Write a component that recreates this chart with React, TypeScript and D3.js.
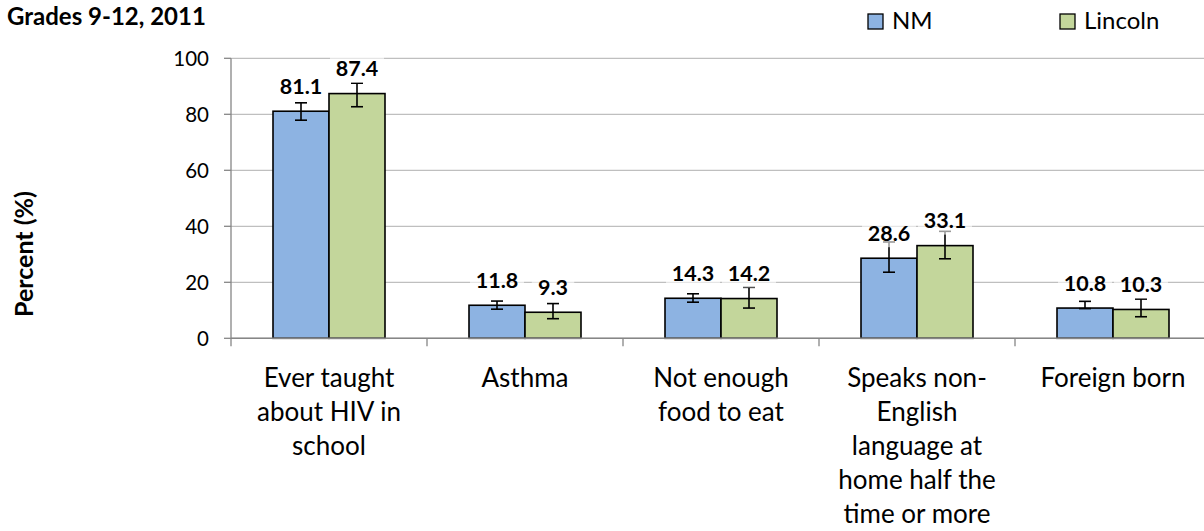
import React from "react";
import * as d3 from "d3";

const categories = [
  ["Ever taught", "about HIV in", "school"],
  ["Asthma"],
  ["Not enough", "food to eat"],
  ["Speaks non-", "English", "language at", "home half the", "time or more"],
  ["Foreign born"],
];
const seriesNames = ["NM", "Lincoln"];
const nmValues = [81.1, 11.8, 14.3, 28.6, 10.8];
const lincolnValues = [87.4, 9.3, 14.2, 33.1, 10.3];
const nmLower = [77.9, 10.4, 12.9, 23.6, 10.6];
const nmUpper = [84.1, 13.3, 15.9, 34.4, 13.2];
const lincolnLower = [82.7, 7.0, 10.8, 28.4, 7.7];
const lincolnUpper = [91.1, 12.4, 18.2, 38.2, 14.0];
const yTicks = [0, 20, 40, 60, 80, 100];
const colors = ["#8DB3E2", "#C3D69B"];

const W = 1204;
const H = 531;
const FONT = "Lato, 'Open Sans', sans-serif";

export default function App() {
  const left = 231;
  const right = 1211;
  const y = d3.scaleLinear().domain([0, 100]).range([338.3, 58.3]);
  const x0 = d3
    .scaleBand<number>()
    .domain(d3.range(categories.length))
    .range([left, right])
    .paddingInner(0)
    .paddingOuter(0);
  const bw = x0.bandwidth();
  const x1 = d3
    .scaleBand<number>()
    .domain([0, 1])
    .range([bw * 0.2143, bw * 0.7857])
    .padding(0);

  const series = [
    { vals: nmValues, lo: nmLower, hi: nmUpper },
    { vals: lincolnValues, lo: lincolnLower, hi: lincolnUpper },
  ];

  return (
    <svg
      width={W}
      height={H}
      style={{ position: "absolute", left: 0, top: 0, background: "#fff" }}
      fontFamily={FONT}
    >
      {/* gridlines */}
      {yTicks.map((t) => (
        <line
          key={"g" + t}
          x1={left}
          x2={right}
          y1={y(t)}
          y2={y(t)}
          stroke="#BFBFBF"
          strokeWidth={1.3}
        />
      ))}
      {/* y axis */}
      <line x1={left} x2={left} y1={y(0)} y2={y(100)} stroke="#868686" strokeWidth={1.3} />
      {yTicks.map((t) => (
        <g key={"t" + t}>
          <line x1={left - 7} x2={left} y1={y(t)} y2={y(t)} stroke="#868686" strokeWidth={1.3} />
          <text
            x={left - 22}
            y={y(t)}
            dy="0.36em"
            textAnchor="end"
            fontSize={20.5}
            fill="#000"
          >
            {t}
          </text>
        </g>
      ))}
      {/* bars */}
      {categories.map((_, i) =>
        series.map((s, j) => {
          const bx = (x0(i) as number) + (x1(j) as number);
          return (
            <rect
              key={"b" + i + "-" + j}
              x={bx}
              y={y(s.vals[i])}
              width={x1.bandwidth()}
              height={y(0) - y(s.vals[i])}
              fill={colors[j]}
              stroke="#000"
              strokeWidth={1.6}
            />
          );
        })
      )}
      {/* x axis */}
      <line x1={left} x2={right} y1={y(0)} y2={y(0)} stroke="#868686" strokeWidth={1.5} />
      {d3.range(categories.length + 1).map((i) => {
        const xx = left + i * bw;
        return (
          <line key={"xt" + i} x1={xx} x2={xx} y1={y(0)} y2={y(0) + 8} stroke="#868686" strokeWidth={1.3} />
        );
      })}
      {/* error bars */}
      {categories.map((_, i) =>
        series.map((s, j) => {
          const cx = (x0(i) as number) + (x1(j) as number) + x1.bandwidth() / 2;
          const yl = y(s.lo[i]);
          const yh = y(s.hi[i]);
          return (
            <g key={"e" + i + "-" + j} stroke="#000" strokeWidth={1.6}>
              <line x1={cx} x2={cx} y1={yl} y2={yh} />
              <line x1={cx - 6} x2={cx + 6} y1={yl} y2={yl} />
              <line x1={cx - 6} x2={cx + 6} y1={yh} y2={yh} />
            </g>
          );
        })
      )}
      {/* data labels */}
      {categories.map((_, i) =>
        series.map((s, j) => {
          const cx = (x0(i) as number) + (x1(j) as number) + x1.bandwidth() / 2;
          const cy = y(s.vals[i]) - 25;
          const label = s.vals[i].toFixed(1);
          const w = label.length * 11.5 + 8;
          return (
            <g key={"l" + i + "-" + j}>
              <rect x={cx - w / 2} y={cy - 13} width={w} height={27} fill="#fff" opacity={0.6} />
              <text
                x={cx}
                y={cy}
                dy="0.36em"
                textAnchor="middle"
                fontSize={21.5}
                fontWeight="bold"
                fill="#000"
              >
                {label}
              </text>
            </g>
          );
        })
      )}
      {/* category labels */}
      {categories.map((lines, i) => {
        const cx = (x0(i) as number) + bw / 2;
        return (
          <text key={"c" + i} x={cx} y={387} textAnchor="middle" fontSize={26} fill="#000">
            {lines.map((ln, k) => (
              <tspan key={k} x={cx} y={387 + k * 34}>
                {ln}
              </tspan>
            ))}
          </text>
        );
      })}
      {/* y axis title */}
      <text
        transform={`translate(33,254) rotate(-90)`}
        textAnchor="middle"
        fontSize={25}
        fontWeight="bold"
        fill="#000"
      >
        Percent (%)
      </text>
      {/* chart title */}
      <text x={7} y={25} fontSize={24} fontWeight="bold" fill="#000">
        Grades 9-12, 2011
      </text>
      {/* legend */}
      {seriesNames.map((n, j) => {
        const lx = j === 0 ? 868 : 1060;
        return (
          <g key={"lg" + j}>
            <rect x={lx} y={14} width={15} height={15} fill={colors[j]} stroke="#000" strokeWidth={1.3} />
            <text x={lx + 24} y={29} fontSize={24} fill="#000">
              {n}
            </text>
          </g>
        );
      })}
    </svg>
  );
}
